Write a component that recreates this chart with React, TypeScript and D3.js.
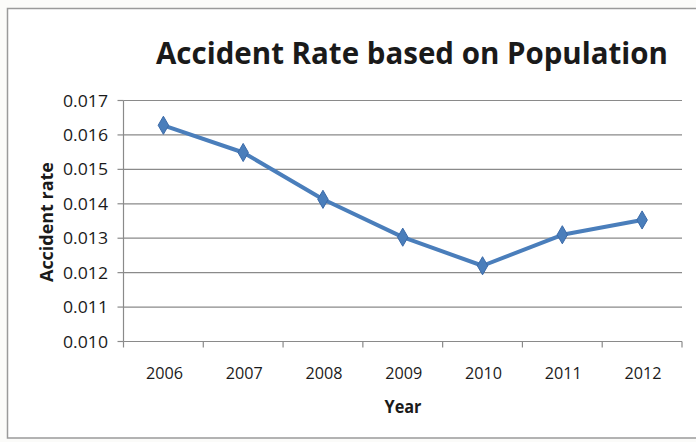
import React from "react";
import * as d3 from "d3";

const years = ["2006", "2007", "2008", "2009", "2010", "2011", "2012"];
const rates = [0.01628, 0.01549, 0.01413, 0.01303, 0.01220, 0.01310, 0.01353];
const yTicks = [0.010, 0.011, 0.012, 0.013, 0.014, 0.015, 0.016, 0.017];
const title = "Accident Rate based on Population";
const xLabel = "Year";
const yLabel = "Accident rate";

const W = 696;
const H = 442;
const M = { left: 123.5, right: 682, top: 100.5, bottom: 341.5 };
const BLUE = "#4a7ebb";
const FONT = "'Open Sans', 'Noto Sans', sans-serif";

export default function App() {
  const x = d3.scaleBand<string>().domain(years).range([M.left, M.right]).padding(0);
  const y = d3.scaleLinear().domain([0.010, 0.017]).range([M.bottom, M.top]);
  const line = d3
    .line<number>()
    .x((_, i) => (x(years[i]) as number) + x.bandwidth() / 2)
    .y((d) => y(d));
  const diamond = d3.symbol().type(d3.symbolDiamond).size(95)() as string;
  const bounds = years.map((yr) => x(yr) as number).concat([M.right]);

  return (
    <svg
      width={W}
      height={H}
      style={{ position: "absolute", left: 0, top: 0, background: "#fbfbf9" }}
    >
      <rect x={7.5} y={8.5} width={700} height={429.5} fill="#ffffff" stroke="#9a9a9a" strokeWidth={1.5} />
      <text
        x={156}
        y={64}
        fontFamily={FONT}
        fontWeight={700}
        fontSize={31}
        fill="#1a1a1a"
        textLength={512}
        lengthAdjust="spacingAndGlyphs"
      >
        {title}
      </text>
      {yTicks.map((t) => (
        <g key={t}>
          <line x1={M.left} x2={M.right} y1={y(t)} y2={y(t)} stroke="#8a8a8a" strokeWidth={1.2} />
          <line x1={M.left - 6} x2={M.left} y1={y(t)} y2={y(t)} stroke="#8a8a8a" strokeWidth={1.2} />
          <text
            x={108}
            y={y(t)}
            dy="0.36em"
            textAnchor="end"
            fontFamily={FONT}
            fontSize={17}
            fill="#1a1a1a"
            textLength={45}
            lengthAdjust="spacingAndGlyphs"
          >
            {d3.format(".3f")(t)}
          </text>
        </g>
      ))}
      <line x1={M.left} x2={M.left} y1={M.top} y2={M.bottom} stroke="#8a8a8a" strokeWidth={1.2} />
      {bounds.map((b, i) => (
        <line key={i} x1={b} x2={b} y1={M.bottom} y2={M.bottom + 6} stroke="#8a8a8a" strokeWidth={1.2} />
      ))}
      {years.map((yr) => (
        <text
          key={yr}
          x={(x(yr) as number) + x.bandwidth() / 2 + 1}
          y={373}
          dy="0.36em"
          textAnchor="middle"
          fontFamily={FONT}
          fontSize={17}
          fill="#1a1a1a"
          textLength={37}
          lengthAdjust="spacingAndGlyphs"
        >
          {yr}
        </text>
      ))}
      <text
        x={403}
        y={407}
        dy="0.36em"
        textAnchor="middle"
        fontFamily={FONT}
        fontWeight={700}
        fontSize={17}
        fill="#1a1a1a"
        textLength={37}
        lengthAdjust="spacingAndGlyphs"
      >
        {xLabel}
      </text>
      <text
        transform={`translate(47, 222) rotate(-90)`}
        dy="0.36em"
        textAnchor="middle"
        fontFamily={FONT}
        fontWeight={700}
        fontSize={17}
        fill="#1a1a1a"
        textLength={120}
        lengthAdjust="spacingAndGlyphs"
      >
        {yLabel}
      </text>
      <path d={line(rates) as string} fill="none" stroke={BLUE} strokeWidth={4} strokeLinejoin="round" />
      {rates.map((r, i) => (
        <path
          key={i}
          d={diamond}
          transform={`translate(${(x(years[i]) as number) + x.bandwidth() / 2}, ${y(r)})`}
          fill={BLUE}
          stroke="#3b6aa8"
          strokeWidth={1}
        />
      ))}
    </svg>
  );
}
